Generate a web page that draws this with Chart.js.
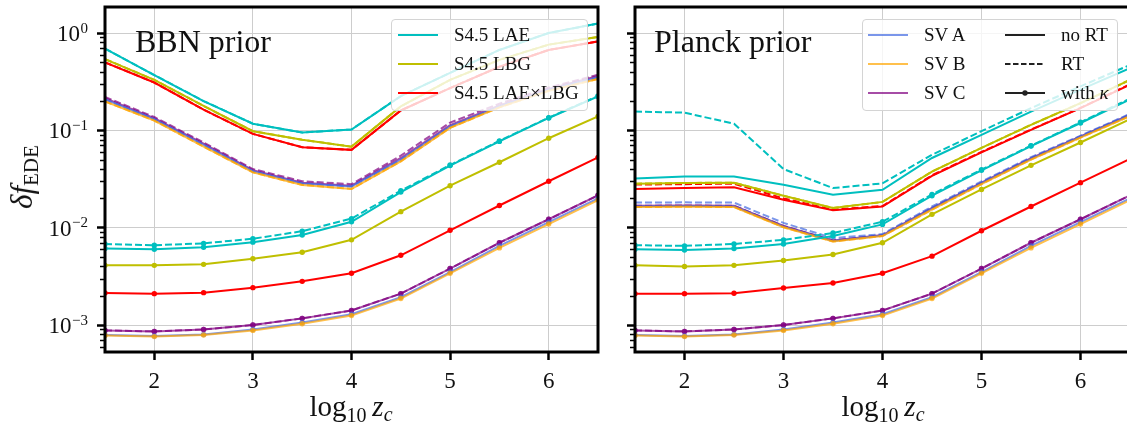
<!DOCTYPE html>
<html><head><meta charset="utf-8">
<script src="https://cdn.jsdelivr.net/npm/chart.js@4.4.1/dist/chart.umd.min.js"></script>
<style>
html,body{margin:0;padding:0;background:#fff;overflow:hidden;width:1127px;height:425px;}
#wrap{position:relative;width:1127px;height:425px;overflow:hidden;font-family:"Liberation Serif",serif;color:#111;}
canvas{position:absolute;top:0;}
.txt{position:absolute;white-space:nowrap;line-height:1;}
.legend{position:absolute;background:rgba(255,255,255,0.8);border:1px solid #d4d4d4;border-radius:4px;box-sizing:border-box;}
.legend .it{position:absolute;font-size:19px;line-height:1;white-space:nowrap;}
.legend svg{position:absolute;overflow:visible;}
</style>
</head><body>
<div id="wrap">
<canvas id="cL" width="610" height="425" style="left:0px"></canvas>
<canvas id="cR" width="612" height="425" style="left:530px"></canvas>

<div class="txt" style="left:135px;top:25px;font-size:32px;">BBN prior</div>
<div class="txt" style="left:654px;top:25px;font-size:32px;">Planck prior</div>

<div class="txt" style="left:24px;top:177px;font-size:31px;transform:translate(-50%,-50%) rotate(-90deg);"><i>δf</i><sub style="font-size:21px;vertical-align:-6px;">EDE</sub></div>

<div class="txt" style="left:351px;top:408px;font-size:29px;transform:translate(-50%,-50%);">log<sub style="font-size:20px;vertical-align:-6px;">10</sub>&#8201;<i>z<sub style="font-size:20px;vertical-align:-5px;">c</sub></i></div>
<div class="txt" style="left:883px;top:408px;font-size:29px;transform:translate(-50%,-50%);">log<sub style="font-size:20px;vertical-align:-6px;">10</sub>&#8201;<i>z<sub style="font-size:20px;vertical-align:-5px;">c</sub></i></div>

<div class="legend" id="legL" style="left:391px;top:19px;width:197px;height:92px;"></div>
<div class="legend" id="legR" style="left:862px;top:19px;width:256px;height:92px;"></div>
</div>

<script>
// ---------------- DATA ----------------
const logZc = [1.5, 2, 2.5, 3, 3.5, 4, 4.5, 5, 5.5, 6, 6.5];
const xTickValues = [2, 3, 4, 5, 6];
const yDecades = [1e-3, 1e-2, 1e-1, 1];
const yDecadeExp = ["\u22123", "\u22122", "\u22121", "0"];
const panelTitles = ["BBN prior", "Planck prior"];
const surveyNames = ["S4.5 LAE", "S4.5 LBG", "S4.5 LAE\u00D7LBG", "SV A", "SV B", "SV C"];

// BBN prior: no RT
const bbnLAE    = [0.69, 0.37, 0.20, 0.117, 0.095, 0.102, 0.225, 0.39, 0.67, 1.0, 1.25];
const bbnLBG    = [0.54, 0.33, 0.178, 0.098, 0.080, 0.068, 0.176, 0.33, 0.53, 0.76, 0.91];
const bbnX      = [0.50, 0.31, 0.163, 0.092, 0.067, 0.063, 0.160, 0.272, 0.45, 0.67, 0.82];
const bbnSVA    = [0.208, 0.130, 0.071, 0.038, 0.0285, 0.0265, 0.050, 0.110, 0.176, 0.262, 0.350];
const bbnSVB    = [0.198, 0.126, 0.068, 0.037, 0.0275, 0.025, 0.048, 0.106, 0.172, 0.255, 0.337];
const bbnSVC    = [0.214, 0.133, 0.073, 0.039, 0.029, 0.027, 0.052, 0.113, 0.180, 0.266, 0.362];
// BBN prior: RT
const bbnSVC_RT = [0.220, 0.137, 0.075, 0.040, 0.030, 0.028, 0.055, 0.120, 0.188, 0.275, 0.372];
// BBN prior: with kappa
const bbnLAE_k   = [0.0061, 0.0060, 0.0063, 0.0071, 0.0084, 0.0115, 0.0232, 0.0434, 0.077, 0.134, 0.223];
const bbnLAE_kRT = [0.0068, 0.0066, 0.0069, 0.0077, 0.0092, 0.0124, 0.0240, 0.0440, 0.078, 0.135, 0.225];
const bbnLBG_k   = [0.0041, 0.0041, 0.0042, 0.0048, 0.0056, 0.0075, 0.0146, 0.027, 0.047, 0.083, 0.139];
const bbnX_k     = [0.00213, 0.00210, 0.00215, 0.00242, 0.00281, 0.0034, 0.0052, 0.0094, 0.0169, 0.030, 0.0528];
const svA_k      = [0.00079, 0.00077, 0.00080, 0.00090, 0.00106, 0.00129, 0.00193, 0.0035, 0.0065, 0.0114, 0.0200];
const svB_k      = [0.00078, 0.00076, 0.00079, 0.00088, 0.00103, 0.00125, 0.00187, 0.0034, 0.0062, 0.0109, 0.0192];
const svC_k      = [0.00088, 0.00086, 0.00090, 0.00100, 0.00117, 0.00141, 0.0021, 0.0038, 0.0070, 0.0122, 0.0215];

// Planck prior: no RT
const plLAE    = [0.032, 0.0335, 0.0335, 0.0276, 0.0218, 0.0245, 0.052, 0.090, 0.156, 0.262, 0.435];
const plLBG    = [0.0283, 0.0288, 0.029, 0.0213, 0.0159, 0.0184, 0.0377, 0.066, 0.114, 0.19, 0.33];
const plX      = [0.0250, 0.0256, 0.026, 0.0194, 0.0151, 0.0165, 0.034, 0.0594, 0.101, 0.169, 0.295];
const plSVA    = [0.0166, 0.0167, 0.0166, 0.0103, 0.0073, 0.0083, 0.0158, 0.0287, 0.051, 0.086, 0.143];
const plSVB    = [0.0163, 0.0164, 0.0163, 0.0101, 0.0072, 0.0082, 0.0153, 0.0280, 0.050, 0.084, 0.140];
const plSVC    = [0.0168, 0.0169, 0.0168, 0.0104, 0.0074, 0.0084, 0.0160, 0.0291, 0.0518, 0.0867, 0.145];
// Planck prior: RT
const plLAE_RT = [0.156, 0.152, 0.117, 0.040, 0.0255, 0.0285, 0.056, 0.098, 0.169, 0.283, 0.47];
const plX_RT   = [0.0277, 0.0280, 0.0283, 0.0200, 0.0153, 0.0167, 0.0345, 0.060, 0.102, 0.170, 0.297];
const plSVA_RT = [0.0181, 0.0182, 0.0181, 0.0112, 0.0078, 0.0086, 0.0165, 0.0298, 0.053, 0.088, 0.148];
// Planck prior: with kappa
const plLAE_k   = [0.0060, 0.0059, 0.0061, 0.0068, 0.0082, 0.0108, 0.0213, 0.0388, 0.069, 0.119, 0.208];
const plLAE_kRT = [0.0066, 0.0065, 0.0068, 0.0075, 0.0088, 0.0115, 0.0220, 0.0395, 0.0695, 0.121, 0.212];
const plLBG_k   = [0.0041, 0.0040, 0.0041, 0.0046, 0.0053, 0.0070, 0.0137, 0.0247, 0.0437, 0.075, 0.130];
const plX_k     = [0.0021, 0.0021, 0.00212, 0.0024, 0.0027, 0.0034, 0.0051, 0.0093, 0.0165, 0.029, 0.051];

// ---------------- STYLE ----------------
const COL = {
  LAE: '#00bfbf', LBG: '#bfbf00', X: '#ff0000',
  A: 'rgba(65,105,225,0.7)', B: 'rgba(255,165,0,0.7)', C: 'rgba(128,0,128,0.7)'
};
const FONT = '"Liberation Serif", serif';

function ds(ys, color, dashed, markers) {
  return {
    data: logZc.map((x, i) => ({x: x, y: ys[i]})),
    borderColor: color, backgroundColor: color,
    borderWidth: 2, borderDash: dashed ? [7, 3] : [],
    pointRadius: markers ? 2.7 : 0, pointHoverRadius: 0, pointBorderWidth: 0,
    pointBackgroundColor: color, tension: 0, fill: false, clip: 0
  };
}

const bbnSets = [
  ds(bbnLAE, COL.LAE, false, false), ds(bbnLAE, COL.LAE, true, false),
  ds(bbnLAE_k, COL.LAE, false, true), ds(bbnLAE_kRT, COL.LAE, true, true),
  ds(bbnLBG, COL.LBG, false, false), ds(bbnLBG, COL.LBG, true, false),
  ds(bbnLBG_k, COL.LBG, false, true),
  ds(bbnX, COL.X, false, false), ds(bbnX, COL.X, true, false),
  ds(bbnX_k, COL.X, false, true),
  ds(bbnSVB, COL.B, false, false), ds(bbnSVB, COL.B, true, false), ds(svB_k, COL.B, false, true),
  ds(bbnSVA, COL.A, false, false), ds(bbnSVA, COL.A, true, false), ds(svA_k, COL.A, false, true),
  ds(bbnSVC, COL.C, false, false), ds(bbnSVC_RT, COL.C, true, false), ds(svC_k, COL.C, false, true), ds(svC_k, COL.C, true, true)
];
const plSets = [
  ds(plLAE, COL.LAE, false, false), ds(plLAE_RT, COL.LAE, true, false),
  ds(plLAE_k, COL.LAE, false, true), ds(plLAE_kRT, COL.LAE, true, true),
  ds(plLBG, COL.LBG, false, false), ds(plLBG, COL.LBG, true, false),
  ds(plLBG_k, COL.LBG, false, true),
  ds(plX, COL.X, false, false), ds(plX_RT, COL.X, true, false),
  ds(plX_k, COL.X, false, true),
  ds(plSVB, COL.B, false, false), ds(plSVB, COL.B, true, false), ds(svB_k, COL.B, false, true),
  ds(plSVA, COL.A, false, false), ds(plSVA_RT, COL.A, true, false), ds(svA_k, COL.A, false, true),
  ds(plSVC, COL.C, false, false), ds(plSVC, COL.C, true, false), ds(svC_k, COL.C, false, true), ds(svC_k, COL.C, true, true)
];

const framePlugin = {
  id: 'frameTicks',
  afterDraw(chart, args, opts) {
    const ctx = chart.ctx;
    const {left, right, top, bottom} = chart.chartArea;
    const ys = chart.scales.y;
    ctx.save();
    ctx.strokeStyle = '#000';
    ctx.lineWidth = 1.5;
    for (let k = -4; k <= 0; k++) {
      for (let m = 2; m <= 9; m++) {
        const v = m * Math.pow(10, k);
        if (v <= ys.min || v >= ys.max) continue;
        const y = Math.round(ys.getPixelForValue(v)) + 0.5;
        ctx.beginPath(); ctx.moveTo(left - 5, y); ctx.lineTo(left, y); ctx.stroke();
      }
    }
    ctx.lineWidth = 3;
    ctx.strokeRect(left, top, right - left, bottom - top);
    if (opts.labels) {
      ctx.fillStyle = '#111';
      ctx.textAlign = 'right';
      ctx.textBaseline = 'alphabetic';
      yDecades.forEach((v, i) => {
        const y = ys.getPixelForValue(v);
        const xr = left - 17;
        ctx.font = '15px ' + FONT;
        const e = yDecadeExp[i];
        const ew = ctx.measureText(e).width;
        ctx.fillText(e, xr, y - 0.5);
        ctx.font = '23px ' + FONT;
        ctx.fillText('10', xr - ew - 0.5, y + 8);
      });
    }
    ctx.restore();
  }
};

function makeChart(id, sets, labels) {
  return new Chart(document.getElementById(id), {
    type: 'line',
    data: {datasets: sets},
    plugins: [framePlugin],
    options: {
      responsive: false, animation: false, devicePixelRatio: 1,
      events: [],
      layout: {padding: {left: 0, top: 7, right: 12, bottom: 0}},
      plugins: {legend: {display: false}, tooltip: {enabled: false}, frameTicks: {labels: labels}},
      scales: {
        x: {
          type: 'linear', min: 1.5, max: 6.5,
          afterBuildTicks: (s) => { s.ticks = xTickValues.map(v => ({value: v})); },
          afterFit: (s) => { s.height = 73; },
          grid: {color: '#cdcdcd', lineWidth: 1, tickColor: '#000', tickWidth: 2.5, tickLength: 8},
          border: {display: false},
          ticks: {font: {family: FONT, size: 23}, color: '#111', padding: 8, maxRotation: 0,
                  callback: (v) => String(v)}
        },
        y: {
          type: 'logarithmic', min: 5.28e-4, max: 1.85,
          afterBuildTicks: (s) => { s.ticks = yDecades.map(v => ({value: v, major: true})); },
          afterFit: (s) => { s.width = 105; },
          grid: {color: '#cdcdcd', lineWidth: 1, tickColor: '#000', tickWidth: 2.5, tickLength: 8},
          border: {display: false},
          ticks: {display: false}
        }
      }
    }
  });
}
makeChart('cL', bbnSets, true);
makeChart('cR', plSets, false);

// ---------------- LEGENDS ----------------
function legLine(color, dashed, dot) {
  return '<svg width="40" height="6" style="left:0;top:0">' +
    '<line x1="0" y1="3" x2="40" y2="3" stroke="' + color + '" stroke-width="2"' +
    (dashed ? ' stroke-dasharray="5.5,2.5"' : '') + '/>' +
    (dot ? '<circle cx="20" cy="3" r="2.7" fill="' + color + '"/>' : '') + '</svg>';
}
function legItem(x, yc, color, dashed, dot, html) {
  return '<div class="it" style="left:' + x + 'px;top:' + (yc - 3) + 'px;width:40px;height:6px;">' + legLine(color, dashed, dot) + '</div>' +
         '<div class="it" style="left:' + (x + 56) + 'px;top:' + (yc - 10) + 'px;">' + html + '</div>';
}
const rowsY = [15, 44, 73];
document.getElementById('legL').innerHTML =
  legItem(6, rowsY[0], COL.LAE, false, false, surveyNames[0]) +
  legItem(6, rowsY[1], COL.LBG, false, false, surveyNames[1]) +
  legItem(6, rowsY[2], COL.X, false, false, surveyNames[2]);
document.getElementById('legR').innerHTML =
  legItem(5, rowsY[0], COL.A, false, false, surveyNames[3]) +
  legItem(5, rowsY[1], COL.B, false, false, surveyNames[4]) +
  legItem(5, rowsY[2], COL.C, false, false, surveyNames[5]) +
  legItem(142, rowsY[0], '#222', false, false, 'no RT') +
  legItem(142, rowsY[1], '#222', true, false, 'RT') +
  legItem(142, rowsY[2], '#222', false, true, 'with <i>\u03BA</i>');
</script>
</body></html>
